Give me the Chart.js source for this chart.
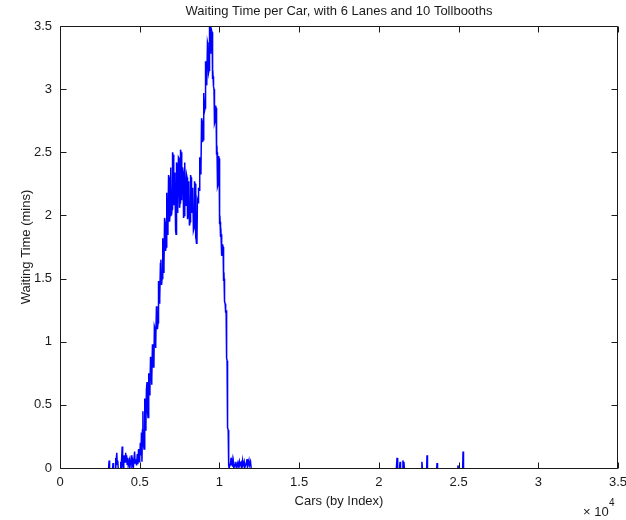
<!DOCTYPE html>
<html lang="en">
<head>
    <meta charset="UTF-8">
    <title>Waiting Time per Car</title>
    <script src="https://cdn.jsdelivr.net/npm/chart.js"></script>
</head>
<style>
    body{
        margin: 0;
        background: white;
    }
    #waitChart{
        display: block;
    }
</style>
<body>

    <canvas id="waitChart" width="626" height="520"></canvas>

<script>
    // car index (x) and waiting time in minutes (y)
    const carIndex = [
        3050, 3080, 3110, 3300, 3330, 3360, 3450, 3480, 3510, 3560, 3590, 3620, 3650,
        3780, 3810, 3840, 3900, 3930, 3960, 4000, 4030, 4060, 4090, 4120, 4150, 4180,
        4210, 4250, 4280, 4350, 4380, 4480, 4510, 4560, 4600, 4680, 4710, 4760, 4800,
        4850, 4880, 4930, 4960, 5000, 5040, 5080, 5110,
        5140, 5170, 5200, 5230, 5270, 5300, 5330, 5360, 5390, 5420, 5460, 5490, 5520,
        5550, 5580, 5610, 5640, 5680, 5710, 5740, 5770, 5800, 5830, 5860, 5890, 5920,
        5960, 5990, 6020, 6050, 6080, 6110, 6150, 6180, 6210, 6240, 6270, 6300, 6330,
        6370, 6400, 6430, 6460, 6490, 6520, 6560, 6590, 6620, 6650, 6680, 6710, 6740,
        6770, 6810, 6840, 6870, 6900, 6930, 6960, 6990, 7030, 7060, 7090, 7120, 7150,
        7180, 7210, 7250, 7280, 7310, 7340, 7370, 7400, 7430, 7470, 7500, 7530, 7560,
        7590, 7620, 7650, 7690, 7720, 7750, 7780, 7810, 7840, 7870, 7900, 7940, 7970,
        8000, 8030, 8060, 8090, 8120, 8160, 8190, 8220, 8250, 8280, 8310, 8340, 8370,
        8410, 8440, 8470, 8500, 8530, 8560, 8590, 8620, 8660, 8690, 8720, 8750, 8780,
        8810, 8840, 8880, 8910, 8940, 8970, 9000, 9030, 9070, 9100, 9130, 9160, 9190,
        9220, 9250, 9280, 9320, 9350, 9380, 9410, 9440, 9470, 9500, 9540, 9570, 9600,
        9630, 9660, 9690, 9730, 9760, 9790, 9820, 9850, 9880, 9920, 9950, 9980, 10010,
        10040, 10070, 10100, 10140, 10170, 10200, 10230, 10260, 10290, 10320, 10360,
        10390, 10420, 10450, 10480, 10510, 10550, 10580, 10610,
        10700, 10730, 10760, 10800, 10830, 10870, 10900, 11000, 11030, 11060, 11150,
        11180, 11250, 11280, 11350, 11380, 11450, 11480, 11550, 11580, 11700, 11730,
        11760, 11850, 11880, 11950, 11990, 12050,
        21100, 21140, 21180, 21300, 21330, 21360, 21480, 21510, 21540, 21570, 21600,
        22680, 22700, 22730, 23000, 23020, 23050, 23630, 23650, 23680, 24940, 24960,
        24990, 25260, 25280, 25310
    ];
    const waitMins = [
        0, 0.06, 0, 0, 0.04, 0, 0, 0.08, 0, 0.12, 0.03, 0.06, 0,
        0, 0.05, 0, 0.17, 0.02, 0, 0.06, 0.1, 0.04, 0.09, 0.12, 0.05, 0.1,
        0.03, 0.08, 0.02, 0.06, 0, 0.1, 0.02, 0.05, 0, 0.13, 0.04, 0.07, 0.02,
        0.11, 0.03, 0.15, 0.05, 0.08, 0.2, 0.1, 0.28,
        0.05, 0.3, 0.45, 0.2, 0.15, 0.5, 0.55, 0.3, 0.35, 0.62, 0.68, 0.45, 0.4,
        0.72, 0.75, 0.58, 0.62, 0.88, 0.85, 0.66, 0.7, 0.98, 0.95, 0.8, 0.82, 1.12,
        1.1, 0.95, 1.0, 1.28, 1.25, 1.1, 1.15, 1.48, 1.45, 1.3, 1.35, 1.62, 1.65,
        1.45, 1.5, 1.82, 1.8, 1.55, 1.6, 1.98, 1.95, 1.72, 1.75, 2.18, 2.15, 1.85,
        1.9, 2.32, 2.3, 1.95, 2.0, 2.38, 2.35, 2.0, 2.05, 2.5, 2.48, 2.08, 2.1,
        2.34, 2.3, 1.88, 1.85, 2.42, 2.4, 2.02, 2.05, 2.46, 2.45, 2.06, 2.1, 2.52,
        2.5, 2.12, 2.15, 2.38, 2.35, 1.98, 2.0, 2.42, 2.4, 2.08, 2.1, 2.32, 2.3,
        1.97, 2.0, 2.27, 2.25, 1.92, 1.95, 2.32, 2.3, 2.02, 2.05, 2.22, 2.2, 1.88,
        1.9, 2.27, 2.25, 1.82, 1.85, 1.78, 1.8, 2.12, 2.1, 2.22, 2.2, 2.46, 2.45,
        2.33, 2.35, 2.77, 2.75, 2.58, 2.6, 2.97, 2.95, 2.83, 2.85, 3.22, 3.2, 3.03,
        3.05, 3.37, 3.35, 3.13, 3.15, 3.5, 3.5, 3.28, 3.3, 3.47, 3.45, 3.08, 3.1,
        3.02, 3.0, 2.73, 2.75, 2.87, 2.85, 2.48, 2.5, 2.23, 2.25, 2.47, 2.45, 1.93,
        1.95, 1.83, 1.85, 1.68, 1.7, 1.77, 1.75, 1.48, 1.5, 1.32, 1.3,
        1.23, 1.25, 0.87, 0.85, 0.32, 0.3, 0.02, 0,
        0.04, 0.08, 0.02, 0.06, 0.01, 0.05, 0, 0.03, 0.05, 0, 0.04,
        0.01, 0.05, 0.02, 0.04, 0, 0.06, 0.02, 0.05, 0, 0.04, 0.07,
        0.01, 0.06, 0.02, 0.05, 0, 0,
        0, 0.08, 0, 0, 0.05, 0, 0, 0.06, 0.02, 0.05, 0,
        0, 0.05, 0, 0, 0.1, 0, 0, 0.04, 0, 0, 0.02,
        0, 0, 0.13, 0
    ];

    const xTicks = [0, 5000, 10000, 15000, 20000, 25000, 30000, 35000];
    const yTicks = [0, 0.5, 1, 1.5, 2, 2.5, 3, 3.5];

    const chartTitle = "Waiting Time per Car, with 6 Lanes and 10 Tollbooths";
    const xLabel = "Cars (by Index)";
    const yLabel = "Waiting Time (mins)";

    const points = carIndex.map((c, i) => ({x: c, y: waitMins[i]}));
    const font = "'Liberation Sans', Arial, sans-serif";
    const axisColor = "#1a1a1a";

    // matlab style box, inside ticks, title and the x10^4 exponent
    const matlabAxes = {
        id: "matlabAxes",
        afterDatasetsDraw(chart) {
            const ctx = chart.ctx;
            const a = chart.chartArea;
            const xs = chart.scales.x;
            const ys = chart.scales.y;
            const L = Math.round(a.left) + 0.5, R = Math.round(a.right) - 0.5;
            const T = Math.round(a.top) + 0.5, B = Math.round(a.bottom) + 0.5;
            const len = 6;
            ctx.save();
            ctx.strokeStyle = axisColor;
            ctx.lineWidth = 1;
            ctx.beginPath();
            ctx.rect(L, T, R - L, B - T);
            xTicks.forEach(v => {
                const px = Math.round(xs.getPixelForValue(v)) + 0.5;
                ctx.moveTo(px, B); ctx.lineTo(px, B - len);
                ctx.moveTo(px, T); ctx.lineTo(px, T + len);
            });
            yTicks.forEach(v => {
                const py = Math.round(ys.getPixelForValue(v)) + 0.5;
                ctx.moveTo(L, py); ctx.lineTo(L + len, py);
                ctx.moveTo(R, py); ctx.lineTo(R - len, py);
            });
            ctx.stroke();

            ctx.fillStyle = axisColor;
            ctx.font = "13px " + font;
            ctx.textAlign = "center";
            ctx.textBaseline = "middle";
            ctx.fillText(chartTitle, (a.left + a.right) / 2, 11);

            ctx.textAlign = "left";
            ctx.fillText("\u00d7 10", a.right - 35, 512);
            ctx.font = "10px " + font;
            ctx.fillText("4", a.right - 9, 503);
            ctx.restore();
        }
    };

    // flat runs at zero sit on the axis line, so leave them undrawn
    const onAxis = seg => (seg.p0.parsed.y === 0 && seg.p1.parsed.y === 0) ? "rgba(0,0,0,0)" : undefined;

    new Chart(document.getElementById("waitChart").getContext("2d"), {
        type: "line",
        data: {
            datasets: [
                {
                    data: points,
                    borderColor: "#0000ff",
                    borderWidth: 1.5,
                    pointRadius: 0,
                    tension: 0,
                    fill: false,
                    segment: {borderColor: onAxis},
                },
            ],
        },
        options: {
            responsive: false,
            animation: false,
            layout: {
                padding: {top: 26, right: 8, left: 0, bottom: 0},
            },
            plugins: {
                legend: {display: false},
                tooltip: {enabled: false},
                title: {display: false},
            },
            scales: {
                x: {
                    type: "linear",
                    min: 0,
                    max: 35000,
                    afterFit: s => {
                        s.height = 52;
                        s.paddingLeft = 0;
                        s.paddingRight = 0;
                    },
                    afterBuildTicks: s => { s.ticks = xTicks.map(v => ({value: v})); },
                    grid: {display: false, drawTicks: false},
                    border: {display: false},
                    ticks: {
                        padding: 7,
                        color: axisColor,
                        font: {family: font, size: 13},
                        maxRotation: 0,
                        callback: v => String(v / 10000),
                    },
                    title: {
                        display: true,
                        text: xLabel,
                        color: axisColor,
                        font: {family: font, size: 13},
                        padding: {top: 0, bottom: 11},
                    },
                },
                y: {
                    min: 0,
                    max: 3.5,
                    afterFit: s => {
                        s.width = 60;
                        s.paddingTop = 0;
                        s.paddingBottom = 0;
                    },
                    afterBuildTicks: s => { s.ticks = yTicks.map(v => ({value: v})); },
                    grid: {display: false, drawTicks: false},
                    border: {display: false},
                    ticks: {
                        padding: 8,
                        color: axisColor,
                        font: {family: font, size: 13},
                        callback: v => String(v),
                    },
                    title: {
                        display: true,
                        text: yLabel,
                        color: axisColor,
                        font: {family: font, size: 13},
                        padding: {top: 19, bottom: 0},
                    },
                },
            },
        },
        plugins: [matlabAxes],
    });
</script>

</body>
</html>
